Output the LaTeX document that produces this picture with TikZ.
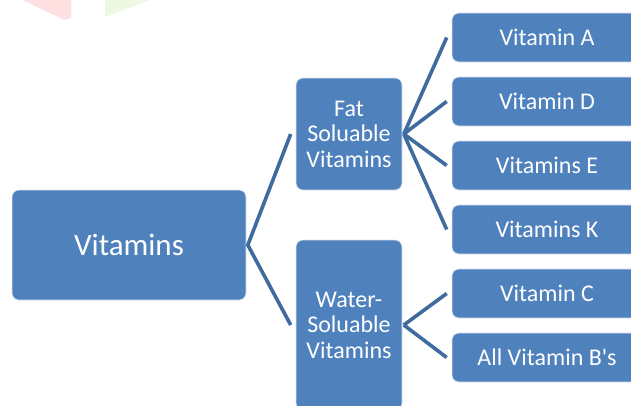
\documentclass[tikz,border=0pt]{standalone}
\usepackage{fontspec}
\setmainfont{Carlito}
\usetikzlibrary{calc}
\definecolor{boxblue}{HTML}{4F81BD}
\definecolor{lineblue}{HTML}{3F6B9F}
\definecolor{boxedge}{HTML}{DCE6F2}
\definecolor{faintpink}{HTML}{FFE0E0}
\definecolor{faintgreen}{HTML}{EEF8E2}
\tikzset{
  vbox/.style={draw=boxedge, line width=0.6pt, fill=boxblue, rounded corners=7pt, text=white, align=center, inner sep=0pt},
  bigbox/.style={vbox, minimum width=234pt, minimum height=110pt, font=\fontsize{31}{33}\selectfont},
  midbox/.style={vbox, minimum width=106pt, font=\fontsize{24}{25.5}\selectfont},
  leafbox/.style={vbox, minimum width=190pt, minimum height=49pt, font=\fontsize{24}{25.5}\selectfont},
  conn/.style={draw=lineblue, line width=3.6pt, line join=miter}
}
\begin{document}
\begin{tikzpicture}[x=1pt,y=-1pt]
\clip (0,0) rectangle (631,405);
\fill[white] (0,0) rectangle (631,405);
% faint artifacts at top
\fill[faintpink] (23,0) -- (71,0) -- (71,18) -- (64,20) -- cycle;
\fill[faintgreen] (105,0) -- (150,0) -- (105,17) -- cycle;

\node[bigbox] (vit) at (129,245) {Vitamins};
\node[midbox, minimum height=112pt] (fat) at (349,134) {Fat\\Soluable\\Vitamins};
\node[midbox, minimum height=170pt] (water) at (349,325) {Water-\\Soluable\\Vitamins};

\node[leafbox] (va) at (547,37.5) {Vitamin A};
\node[leafbox] (vd) at (547,101.5) {Vitamin D};
\node[leafbox] (ve) at (547,165.5) {Vitamins E};
\node[leafbox] (vk) at (547,229.5) {Vitamins K};
\node[leafbox] (vc) at (547,293.5) {Vitamin C};
\node[leafbox] (vb) at (547,357.5) {All Vitamin B\textquotesingle s};

\coordinate (a0) at ($(vit.east)+(1.5,0)$);
\coordinate (a1) at ($(fat.east)+(1.5,0)$);
\coordinate (a2) at ($(water.east)+(1.5,0)$);

\draw[conn] ($(fat.west)+(-5,0)$) -- (a0) -- ($(water.west)+(-5,0)$);
\foreach \t in {va,vd,ve,vk}{
  \draw[conn] (a1) -- ($(\t.west)+(-5,0)$);
}
\foreach \t in {vc,vb}{
  \draw[conn] (a2) -- ($(\t.west)+(-5,0)$);
}
\end{tikzpicture}
\end{document}
